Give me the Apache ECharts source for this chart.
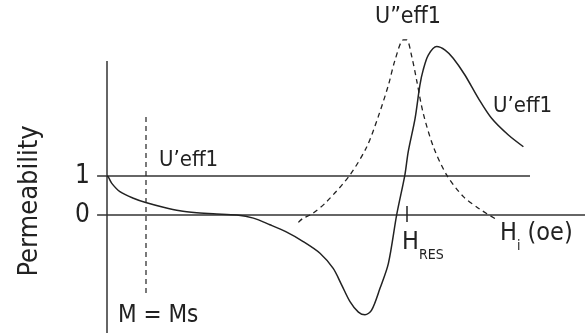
<!DOCTYPE html>
<html>
<head>
<meta charset="utf-8">
<script src="https://cdn.jsdelivr.net/npm/echarts@6/dist/echarts.min.js"></script>
<style>
  html, body { margin: 0; padding: 0; background: #fff; }
  #main { width: 585px; height: 333px; }
</style>
</head>
<body>
<div id="main"></div>
<script>
// H in arbitrary units (H_RES = 100), permeability relative to 1
var hRes = 100;
var msField = 13;
var levels = [0, 1];

// U'eff1 (real part), solid
var realH = [0, 0.4, 1.6, 4.3, 8.8, 12.9, 18.8, 24.3, 29.9, 35.4, 43.3, 48.8, 54.3, 59.9, 65.4, 71.0, 75.4, 78.2, 81.0, 83.8, 86.0, 88.2, 91.0, 93.8, 96.6, 99.3, 100.4, 102.7, 104.3, 105.4, 107.1, 109.9, 112.7, 115.4, 119.3, 123.8, 128.2, 133.8, 138.8];
var realU = [1.0, 0.98, 0.81, 0.60, 0.43, 0.32, 0.20, 0.11, 0.06, 0.03, 0.0, -0.08, -0.25, -0.44, -0.68, -0.98, -1.37, -1.79, -2.22, -2.49, -2.56, -2.44, -1.88, -1.24, 0.02, 1.03, 1.62, 2.48, 3.33, 3.72, 4.10, 4.32, 4.23, 4.02, 3.59, 2.99, 2.48, 2.05, 1.75];

// U"eff1 (imaginary part), dashed
var imagH = [63.8, 65.4, 68.2, 73.2, 81.0, 86.6, 90.4, 93.8, 96.0, 98.8, 99.9, 101.6, 103.2, 105.4, 108.8, 113.2, 118.8, 124.3, 126.7, 129.3];
var imagU = [-0.19, -0.08, 0.02, 0.34, 1.03, 1.75, 2.52, 3.33, 3.97, 4.49, 4.49, 4.06, 3.46, 2.61, 1.75, 1.03, 0.47, 0.15, 0.03, -0.09];

function pairs(xs, ys) {
  return xs.map(function (x, i) { return [x, ys[i]]; });
}

var font = '"Liberation Sans Narrow", "DejaVu Sans Condensed", "Liberation Sans", sans-serif';
var ink = '#222';

var myChart = echarts.init(document.getElementById('main'));

var option = {
  animation: false,
  grid: { left: 0, right: 0, top: 0, bottom: 0 },
  xAxis: { type: 'value', min: -107 / 3, max: 478 / 3, show: false },
  yAxis: { type: 'value', min: -118 / 39, max: 215 / 39, show: false },
  series: [
    // vertical axis
    {
      type: 'line', showSymbol: false, silent: true,
      lineStyle: { color: '#333', width: 1.5 },
      data: [[0, 3.95], [0, -3.1]]
    },
    // level 1
    {
      type: 'line', showSymbol: false, silent: true,
      lineStyle: { color: '#333', width: 1.5 },
      data: [[-3.3, levels[1]], [141, levels[1]]]
    },
    // level 0
    {
      type: 'line', showSymbol: false, silent: true,
      lineStyle: { color: '#333', width: 1.5 },
      data: [[-3.3, levels[0]], [160, levels[0]]]
    },
    // M = Ms marker
    {
      type: 'line', showSymbol: false, silent: true,
      lineStyle: { color: ink, width: 1.2, type: [5, 4] },
      data: [[msField, 2.51], [msField, -2.1]]
    },
    // H_RES tick
    {
      type: 'line', showSymbol: false, silent: true,
      lineStyle: { color: ink, width: 1.5 },
      data: [[hRes, 0.23], [hRes, -0.18]]
    },
    {
      name: "U'eff1", type: 'line', smooth: 0.3, showSymbol: false,
      lineStyle: { color: ink, width: 1.5 },
      data: pairs(realH, realU)
    },
    {
      name: 'U"eff1', type: 'line', smooth: 0.3, showSymbol: false,
      lineStyle: { color: ink, width: 1.3, type: [5, 4] },
      data: pairs(imagH, imagU)
    }
  ],
  graphic: [
    {
      type: 'text', x: 30, y: 201, rotation: Math.PI / 2,
      style: { text: 'Permeability', font: '27px ' + font, fill: ink, align: 'center', verticalAlign: 'middle' }
    },
    {
      type: 'text', x: 90, y: 176,
      style: { text: '1', font: '26px ' + font, fill: ink, align: 'right', verticalAlign: 'middle' }
    },
    {
      type: 'text', x: 90, y: 215,
      style: { text: '0', font: '26px ' + font, fill: ink, align: 'right', verticalAlign: 'middle' }
    },
    {
      type: 'text', x: 159, y: 160,
      style: { text: 'U\u2019eff1', font: '22px ' + font, fill: ink, align: 'left', verticalAlign: 'middle' }
    },
    {
      type: 'text', x: 118, y: 316,
      style: { text: 'M = Ms', font: '24px ' + font, fill: ink, align: 'left', verticalAlign: 'middle' }
    },
    {
      type: 'text', x: 408, y: 17,
      style: { text: 'U\u201deff1', font: '23px ' + font, fill: ink, align: 'center', verticalAlign: 'middle' }
    },
    {
      type: 'text', x: 493, y: 106,
      style: { text: 'U\u2019eff1', font: '22px ' + font, fill: ink, align: 'left', verticalAlign: 'middle' }
    },
    {
      type: 'text', x: 402, y: 230,
      style: {
        text: '{h|H}{s|RES}', fill: ink, align: 'left', verticalAlign: 'top',
        rich: {
          h: { font: '25px ' + font, fill: ink, verticalAlign: 'bottom' },
          s: { font: '14px ' + font, fill: ink, verticalAlign: 'bottom', padding: [0, 0, -7, 0] }
        }
      }
    },
    {
      type: 'text', x: 500, y: 221,
      style: {
        text: '{h|H}{s|i}{t| (oe)}', fill: ink, align: 'left', verticalAlign: 'top',
        rich: {
          h: { font: '25px ' + font, fill: ink, verticalAlign: 'bottom' },
          s: { font: '14px ' + font, fill: ink, verticalAlign: 'bottom', padding: [0, 0, -7, 0] },
          t: { font: '25px ' + font, fill: ink, verticalAlign: 'bottom' }
        }
      }
    }
  ]
};

myChart.setOption(option);
</script>
</body>
</html>
